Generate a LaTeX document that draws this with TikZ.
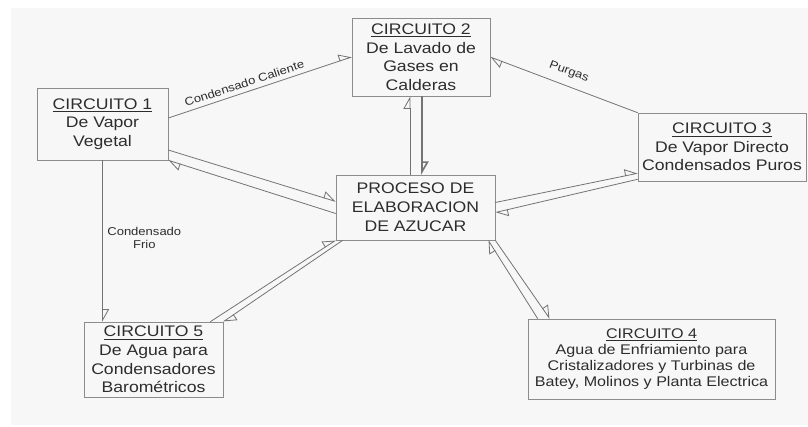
\documentclass[tikz,border=0pt]{standalone}
\usepackage{fontspec}
\setmainfont{Liberation Sans}[FakeStretch=1.15]
\usetikzlibrary{arrows.meta,calc}
\definecolor{fondo}{RGB}{247,247,247}
\definecolor{linea}{RGB}{115,115,115}
\definecolor{texto}{RGB}{45,45,45}

\begin{document}
\begin{tikzpicture}[x=0.75pt,y=-0.75pt,
  caja/.style={draw=black!45,fill=fondo,text=texto,align=center,inner sep=0pt,
    font=\fontsize{11.5}{13.9}\selectfont},
  flujo/.style={draw=linea,line width=0.6pt,-{Triangle[open,left,length=9pt,width=10pt]}},
  etiqueta/.style={text=texto,font=\fontsize{8.5}{9.5}\selectfont}]
\useasboundingbox (0,0) rectangle (808,426);
\fill[fondo] (11,8) rectangle (808,425);
\node[caja,minimum width=98.25pt,minimum height=54pt] (c1) at (102.5,124) {\underline{CIRCUITO 1}\\De Vapor\\Vegetal};
\node[caja,minimum width=103.5pt,minimum height=58.5pt] (c2) at (421,57) {\underline{CIRCUITO 2}\\De Lavado de\\Gases en\\Calderas};
\node[caja,minimum width=126pt,minimum height=51pt] (c3) at (722,147) {\underline{CIRCUITO 3}\\De Vapor Directo\\Condensados Puros};
\node[caja,minimum width=119.25pt,minimum height=48.75pt,font=\fontsize{11.5}{14.3}\selectfont] (proc) at (415.5,207.5) {PROCESO DE\\ELABORACION\\DE AZUCAR};
\node[caja,minimum width=104.25pt,minimum height=56.25pt] (c5) at (153.5,359.5) {\underline{CIRCUITO 5}\\De Agua para\\Condensadores\\Barométricos};
\node[caja,minimum width=185.25pt,minimum height=60pt,font=\fontsize{10.5}{12.2}\selectfont] (c4) at (651.5,359) {\underline{CIRCUITO 4}\\Agua de Enfriamiento para\\Cristalizadores y Turbinas de\\Batey, Molinos y Planta Electrica};

\draw[flujo] ($(c1.east)+(0,-6)$) -- node[etiqueta,pos=0.43,above,sloped] {Condensado Caliente} (c2.west);
\draw[flujo] (c3.north west) -- node[etiqueta,pos=0.5,above=3pt,sloped] {Purgas} (c2.east);
\draw[flujo] (c1.south) -- node[etiqueta,pos=0.48,right,align=center] {Condensado\\Frio} (c1.south |- c5.north);
\draw[flujo] ($(proc.north)+(-5.5,0)$) -- ($(c2.south)+(-11,0)$);
\draw[flujo,line width=1.2pt] ($(c2.south)+(1,0)$) -- ($(proc.north)+(6.5,0)$);
\draw[flujo] ($(c1.east)+(0,26)$) -- ($(proc.west)+(0,-6)$);
\draw[flujo] ($(proc.west)+(0,6)$) -- (c1.south east);
\draw[flujo] ($(proc.east)+(0,-5)$) -- ($(c3.south west)+(0,-8)$);
\draw[flujo] ($(c3.south west)+(0,-2)$) -- ($(proc.east)+(0,5)$);
\draw[flujo] ($(c5.north east)+(-13,0)$) -- (proc.south west);
\draw[flujo] ($(proc.south west)+(7,0)$) -- (c5.north east);
\draw[flujo] ($(c4.north west)+(10,0)$) -- ($(proc.south east)+(-7,0)$);
\draw[flujo] (proc.south east) -- ($(c4.north west)+(22,0)$);
\end{tikzpicture}
\end{document}
